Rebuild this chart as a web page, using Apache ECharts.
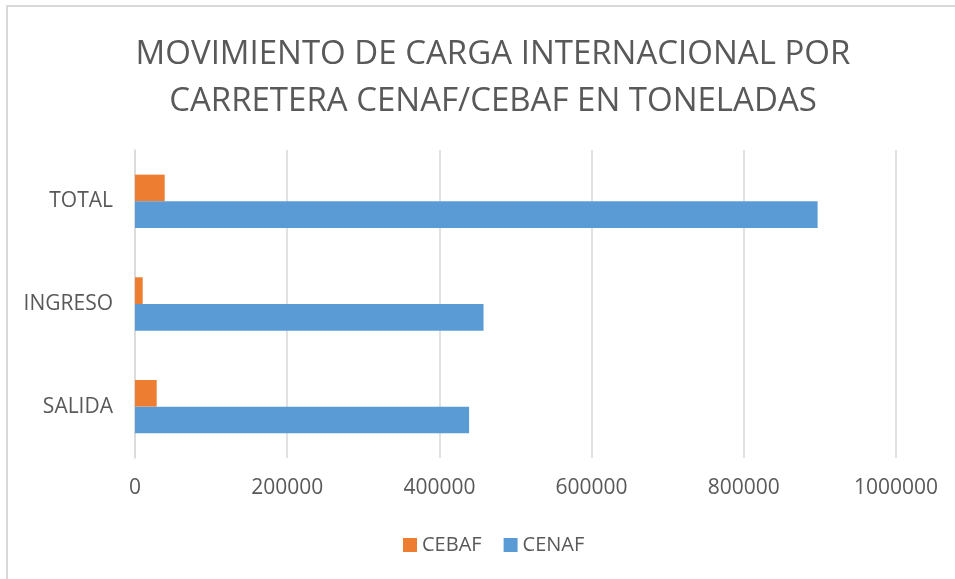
<!DOCTYPE html>
<html>
<head>
<meta charset="utf-8">
<script src="https://cdn.jsdelivr.net/npm/echarts@6/dist/echarts.min.js"></script>
<style>
html,body{margin:0;padding:0;background:#fff;}
#frame{position:absolute;left:6px;top:5px;width:960px;height:590px;border-left:2px solid #d9d9d9;border-top:2px solid #d9d9d9;box-sizing:border-box;}
#chart{position:absolute;left:0;top:0;width:955px;height:579px;}
</style>
</head>
<body>
<div id="frame"></div>
<div id="chart"></div>
<script>
const categories = ['SALIDA', 'INGRESO', 'TOTAL'];
const cenaf = [439000, 458000, 897000];
const cebaf = [28500, 10100, 39000];
const xTicks = [0, 200000, 400000, 600000, 800000, 1000000];
const seriesNames = ['CEBAF', 'CENAF'];

const chart = echarts.init(document.getElementById('chart'), null, {renderer: 'canvas'});
const font = '"Open Sans", "Noto Sans", sans-serif';
chart.setOption({
  backgroundColor: 'transparent',
  animation: false,
  title: {
    text: 'MOVIMIENTO DE CARGA INTERNACIONAL POR\nCARRETERA CENAF/CEBAF EN TONELADAS',
    left: 488, textAlign: 'center', top: 26,
    textStyle: {fontFamily: font, fontSize: 33, fontWeight: 'normal', color: '#595959', lineHeight: 47}
  },
  legend: {
    data: seriesNames,
    bottom: 19, left: 398,
    itemWidth: 14, itemHeight: 14, itemGap: 22,
    icon: 'rect',
    textStyle: {fontFamily: font, fontSize: 20, color: '#595959'}
  },
  grid: {left: 135, right: 59, top: 150, bottom: 121, containLabel: false},
  xAxis: {
    type: 'value', min: xTicks[0], max: xTicks[xTicks.length - 1], interval: 200000,
    axisLine: {show: false}, axisTick: {show: false},
    splitLine: {lineStyle: {color: '#d9d9d9', width: 1.5}},
    axisLabel: {fontFamily: font, fontSize: 21, color: '#595959', margin: 20, formatter: v => String(v)}
  },
  yAxis: {
    type: 'category', data: categories,
    axisLine: {show: true, lineStyle: {color: '#d9d9d9', width: 1.5}},
    axisTick: {show: false},
    axisLabel: {fontFamily: font, fontSize: 21, color: '#595959', margin: 22}
  },
  series: [
    {name: 'CEBAF', type: 'bar', data: cebaf, itemStyle: {color: '#ed7d31'}, barGap: '0%', barCategoryGap: '48%'},
    {name: 'CENAF', type: 'bar', data: cenaf, itemStyle: {color: '#5b9bd5'}, barGap: '0%', barCategoryGap: '48%'}
  ]
});
</script>
</body>
</html>
